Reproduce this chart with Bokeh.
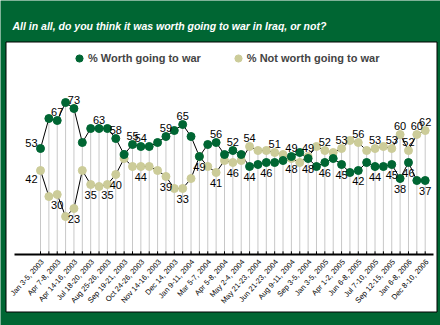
import math
from bokeh.plotting import figure
from bokeh.models import Range1d, ColumnDataSource, Legend, LegendItem
from bokeh.core.properties import value
from bokeh.embed import file_html
from bokeh.resources import INLINE

title_text = "All in all, do you think it was worth going to war in Iraq, or not?"
series_names = ["% Worth going to war", "% Not worth going to war"]
tick_labels = ["Jan 3-5, 2003", "Apr 7-8, 2003", "Apr 14-16, 2003", "Jul 18-20, 2003",
               "Aug 25-26, 2003", "Sep 19-21, 2003", "Oct 24-26, 2003", "Nov 14-16, 2003",
               "Dec 14, 2003", "Jan 9-11, 2004", "Mar 5-7, 2004", "Apr 5-8, 2004",
               "May 2-4, 2004", "May 21-23, 2004", "Jun 21-23, 2004", "Aug 9-11, 2004",
               "Sep 3-5, 2004", "Jan 3-5, 2005", "Apr 1-2, 2005", "Jun 6-8, 2005",
               "Jul 7-10, 2005", "Sep 12-15, 2005", "Jan 6-8, 2006", "Dec 8-10, 2006"]
worth = [53, 68, 67, 76, 73, 56, 63, 63, 63, 58, 50, 55, 54, 54, 56, 59, 62, 65, 59, 49,
         55, 56, 50, 52, 50, 44, 45, 46, 46, 47, 49, 51, 48, 44, 46, 48, 45, 41, 42, 46,
         44, 44, 45, 38, 46, 37, 37]
not_worth = [42, 29, 30, 19, 23, 42, 35, 34, 35, 40, 48, 44, 44, 44, 42, 39, 33, 33, 38, 49,
             44, 41, 47, 46, 47, 54, 52, 52, 51, 50, 48, 46, 49, 54, 52, 51, 53, 57, 56, 52,
             53, 54, 53, 60, 52, 60, 62]

# which polls carry a value label, and where the label sits (style only)
worth_labels = [(0, "left-above"), (2, "above"), (4, "above"), (7, "above"), (9, "above"),
                (11, "above"), (12, "above"), (15, "above"), (17, "above"), (21, "above"),
                (23, "above"), (25, "below"), (27, "below"), (30, "above"), (32, "below"),
                (34, "below"), (36, "below"), (38, "below"), (40, "below"), (42, "below"),
                (43, "below"), (44, "below"), (46, "below")]
not_worth_labels = [(0, "left-below"), (2, "below"), (4, "below"), (6, "below"), (8, "below"),
                    (9, "below"), (12, "below"), (15, "below"), (17, "below"), (19, "below"),
                    (21, "below"), (23, "below"), (25, "above"), (28, "above"), (30, "below"),
                    (32, "above"), (34, "above"), (36, "above"), (38, "above"), (40, "above"),
                    (42, "above"), (43, "above"), (44, "above"), (45, "above"), (46, "above")]

GREEN = "#006633"
TAN = "#CCCC99"
FONT = "Liberation Sans"
W, H = 440, 325

# layout geometry (pixels): first poll x, poll spacing, zero line y, px per point
X0, DX, Y0, DY = 40.0, 8.363, 254.0, 2.0
def xd(px):
    return (px - X0) / DX
def yd(py):
    return (Y0 - py) / DY

polls = list(range(len(worth)))
tick_pos = polls[::2]

p = figure(width=W, height=H, output_backend="svg", toolbar_location=None,
           x_range=Range1d(xd(0), xd(W)), y_range=Range1d(yd(H), yd(0)),
           x_axis_type=None, y_axis_type=None,
           min_border=0, min_border_left=0, min_border_right=0,
           min_border_top=0, min_border_bottom=0)
p.border_fill_color = GREEN
p.background_fill_color = GREEN
p.outline_line_color = None

# white chart panel
p.quad(left=[xd(5.5)], right=[xd(436.5)], top=[yd(41.5)], bottom=[yd(311.5)],
       fill_color="white", line_color="black", line_width=1)

# title
p.text(x=[xd(12)], y=[yd(25)], text=[title_text], text_align="left",
       text_baseline="alphabetic", text_color="white", text_font=value(FONT),
       text_font_size="10.5px", text_font_style="bold italic")

# drop lines from the upper value to the axis
tops = [max(a, b) for a, b in zip(worth, not_worth)]
p.segment(x0=polls, y0=[0] * len(polls), x1=polls, y1=tops, line_color="#c8c8c8", line_width=1)

# x axis line, ticks and date labels
p.segment(x0=[xd(14)], y0=[0], x1=[xd(433)], y1=[0], line_color="black", line_width=2)
p.segment(x0=polls, y0=[0] * len(polls), x1=polls, y1=[1.6] * len(polls),
          line_color="black", line_width=1)
p.text(x=tick_pos, y=[0] * len(tick_pos), text=tick_labels, angle=0.84,
       text_align="right", text_baseline="middle", x_offset=2, y_offset=6,
       text_font=value(FONT), text_font_size="7.5px", text_color="black")

# series
p.line(polls, not_worth, line_color="black", line_width=1)
p.line(polls, worth, line_color="black", line_width=1)
r_not = p.scatter(polls, not_worth, size=8, fill_color=TAN, line_color=TAN)
r_worth = p.scatter(polls, worth, size=8, fill_color=GREEN, line_color=GREEN)

offsets = {"above": (0, -9, "center"), "below": (0, 10, "center"),
           "left-above": (-3, -6, "right"), "left-below": (-3, 8, "right")}

def add_labels(spec, vals):
    groups = {}
    for idx, place in spec:
        dx, dy, align = offsets[place]
        g = groups.setdefault(align, {"x": [], "y": [], "t": [], "dx": [], "dy": []})
        g["x"].append(idx)
        g["y"].append(vals[idx])
        g["t"].append(str(vals[idx]))
        g["dx"].append(dx)
        g["dy"].append(dy)
    for align, g in groups.items():
        src = ColumnDataSource(dict(x=g["x"], y=g["y"], t=g["t"], dx=g["dx"], dy=g["dy"]))
        p.text(x="x", y="y", text="t", x_offset="dx", y_offset="dy", source=src,
               text_align=align, text_baseline="middle", text_font=value(FONT),
               text_font_size="11px", text_color="black")

add_labels(worth_labels, worth)
add_labels(not_worth_labels, not_worth)

legend = Legend(items=[LegendItem(label=series_names[0], renderers=[r_worth]),
                       LegendItem(label=series_names[1], renderers=[r_not])],
                orientation="horizontal", location=(70, H - 67))
legend.background_fill_alpha = 0
legend.border_line_color = None
legend.padding = 0
legend.margin = 0
legend.glyph_width = 18
legend.glyph_height = 18
legend.label_height = 18
legend.label_standoff = 0
legend.spacing = 28
legend.label_text_font = FONT
legend.label_text_font_size = "11px"
legend.label_text_font_style = "bold"
p.add_layout(legend)

open("out.html", "w").write(file_html(p, INLINE))
